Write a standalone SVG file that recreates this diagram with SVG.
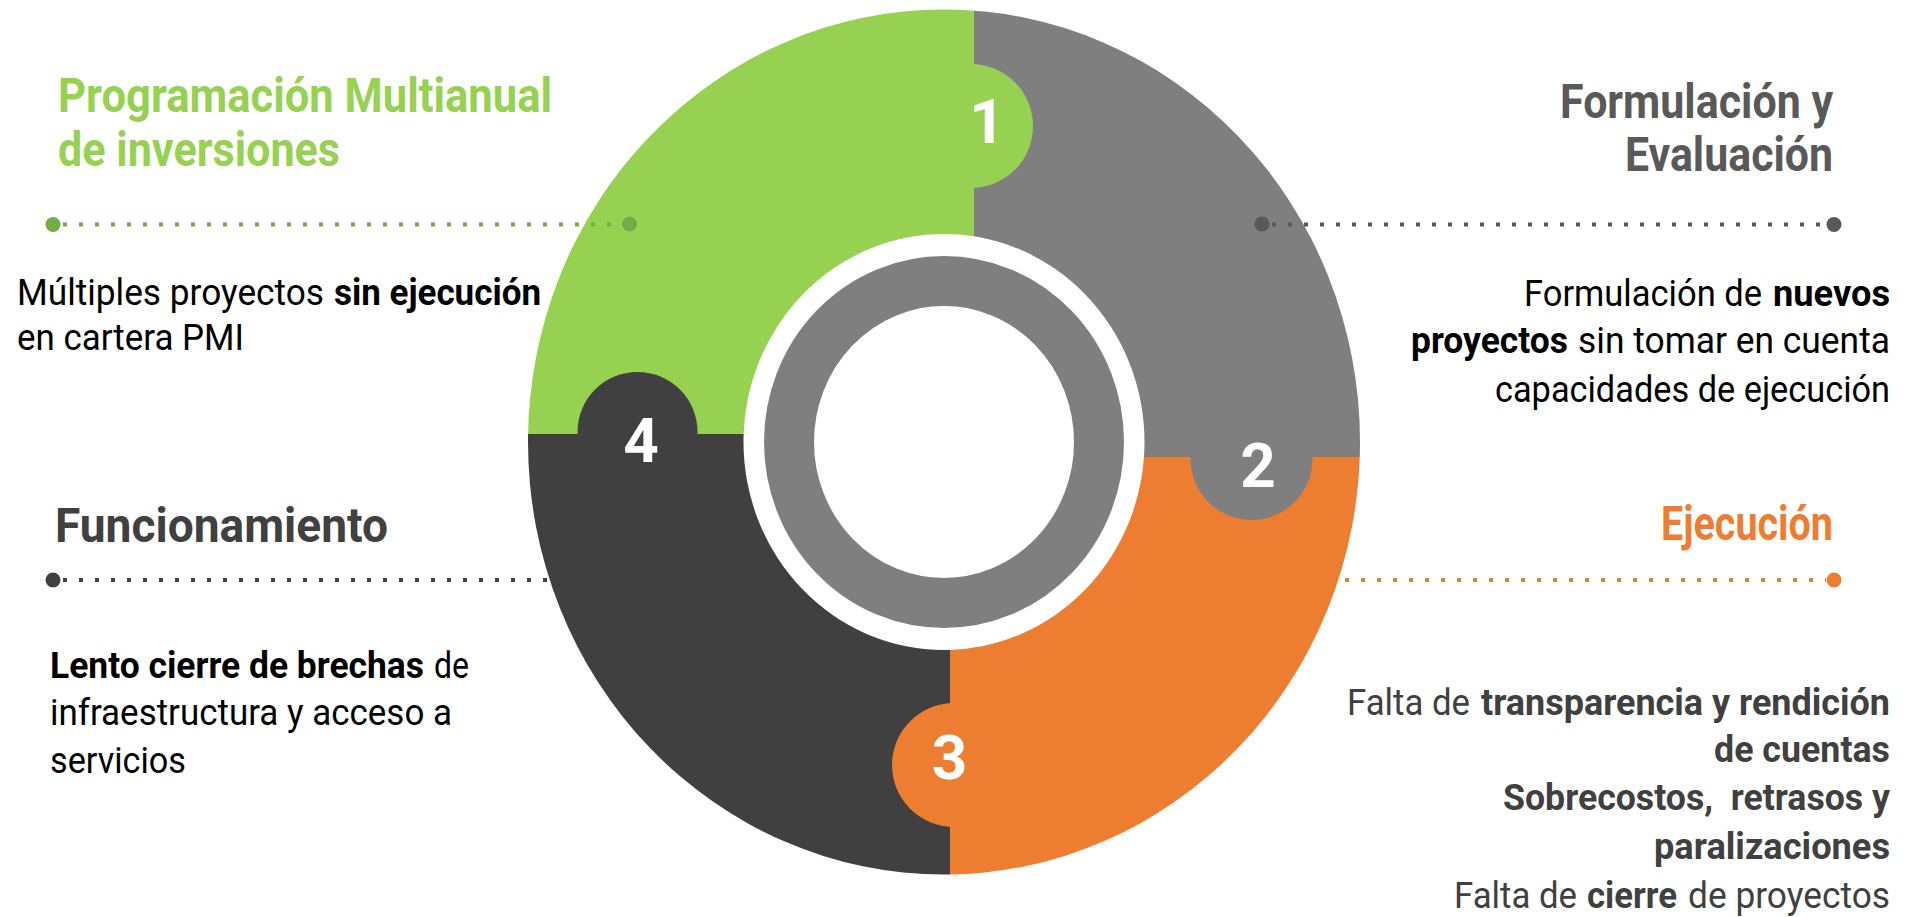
<svg xmlns="http://www.w3.org/2000/svg" width="1911" height="917" viewBox="0 0 1911 917">
<style>
text{font-family:Roboto,"Liberation Sans",Arial,sans-serif}
.t{font-size:48px;font-weight:700}
.b{font-size:36px;font-weight:400}
.bold{font-weight:700}
.num{font-size:62px;font-weight:700;fill:#FFFFFF;text-anchor:middle}
.end{text-anchor:end}
.k{fill:#000000}
.g{fill:#404040}
.dots{stroke-width:4;stroke-dasharray:4 12;fill:none}
</style>
<defs>
<path id="ann" fill-rule="evenodd" d="M528,442a416,432.5 0 1,0 832,0a416,432.5 0 1,0 -832,0ZM743.5,442a200.5,208 0 1,0 401,0a200.5,208 0 1,0 -401,0Z"/>
<clipPath id="c1"><rect x="527" y="9" width="447" height="425"/></clipPath>
<clipPath id="c2"><rect x="974" y="9" width="387" height="448"/></clipPath>
<clipPath id="c3"><rect x="950" y="457" width="411" height="419"/></clipPath>
<clipPath id="c4"><rect x="527" y="434" width="423" height="442"/></clipPath>
</defs>
<rect width="1911" height="917" fill="#FFFFFF"/>

<g id="q1-shape"><use href="#ann" fill="#97D152" clip-path="url(#c1)"/></g>
<g id="q2-shape"><use href="#ann" fill="#7F7F7F" clip-path="url(#c2)"/></g>
<g id="q3-shape"><use href="#ann" fill="#ED7D31" clip-path="url(#c3)"/></g>
<g id="q4-shape"><use href="#ann" fill="#404040" clip-path="url(#c4)"/></g>

<g id="node1"><circle cx="971" cy="126" r="62" fill="#97D152"/><text class="num" x="987" y="143">1</text></g>
<g id="node2"><circle cx="1251.5" cy="459" r="61" fill="#7F7F7F"/><text class="num" x="1258" y="487">2</text></g>
<g id="node3"><circle cx="954" cy="765" r="62" fill="#ED7D31"/><text class="num" x="949.5" y="779">3</text></g>
<g id="node4"><circle cx="637.5" cy="432" r="60" fill="#404040"/><text class="num" x="641" y="462">4</text></g>

<g id="center-ring"><ellipse cx="944" cy="442" rx="155" ry="161" fill="none" stroke="#7F7F7F" stroke-width="50"/></g>

<g id="connectors">
<line class="dots" x1="63" y1="224.5" x2="622" y2="224.5" stroke="#70AD47"/>
<circle cx="53" cy="224.5" r="7.5" fill="#70AD47"/><circle cx="629.5" cy="224" r="7.5" fill="#70AD47"/>
<line class="dots" x1="1272" y1="224.5" x2="1826" y2="224.5" stroke="#595959"/>
<circle cx="1262" cy="224" r="7.5" fill="#595959"/><circle cx="1834" cy="224.5" r="7.5" fill="#595959"/>
<line class="dots" x1="63" y1="580" x2="548" y2="580" stroke="#404040"/>
<circle cx="53" cy="580" r="7.5" fill="#404040"/>
<line class="dots" x1="1345" y1="580" x2="1826" y2="580" stroke="#ED7D31"/>
<circle cx="1834" cy="580" r="7.5" fill="#ED7D31"/>
</g>

<g id="label1">
<text class="t" x="58" y="112" fill="#97D152" textLength="494" lengthAdjust="spacingAndGlyphs">Programación Multianual</text>
<text class="t" x="58" y="166" fill="#97D152" textLength="282" lengthAdjust="spacingAndGlyphs">de inversiones</text>
<text class="b k" x="17" y="305" textLength="307" lengthAdjust="spacingAndGlyphs">Múltiples proyectos</text>
<text class="b k bold" x="334" y="305" textLength="207" lengthAdjust="spacingAndGlyphs">sin ejecución</text>
<text class="b k" x="17" y="350" textLength="227" lengthAdjust="spacingAndGlyphs">en cartera PMI</text>
</g>

<g id="label2">
<text class="t end" x="1833" y="118" fill="#595959" textLength="273" lengthAdjust="spacingAndGlyphs">Formulación y</text>
<text class="t end" x="1833" y="171" fill="#595959" textLength="208" lengthAdjust="spacingAndGlyphs">Evaluación</text>
<text class="b k" x="1524" y="306" textLength="238" lengthAdjust="spacingAndGlyphs">Formulación de</text>
<text class="b k bold" x="1773" y="306" textLength="117" lengthAdjust="spacingAndGlyphs">nuevos</text>
<text class="b k bold" x="1411" y="353" textLength="157" lengthAdjust="spacingAndGlyphs">proyectos</text>
<text class="b k" x="1578" y="353" textLength="312" lengthAdjust="spacingAndGlyphs">sin tomar en cuenta</text>
<text class="b k" x="1495" y="402" textLength="395" lengthAdjust="spacingAndGlyphs">capacidades de ejecución</text>
</g>

<g id="label3">
<text class="t end" x="1833" y="540" fill="#ED7D31" textLength="172" lengthAdjust="spacingAndGlyphs">Ejecución</text>
<text class="b g" x="1347" y="715" textLength="123" lengthAdjust="spacingAndGlyphs">Falta de</text>
<text class="b g bold" x="1481" y="715" textLength="409" lengthAdjust="spacingAndGlyphs">transparencia y rendición</text>
<text class="b g bold" x="1714" y="762" textLength="176" lengthAdjust="spacingAndGlyphs">de cuentas</text>
<text class="b g bold" x="1503" y="810" textLength="387" lengthAdjust="spacingAndGlyphs" xml:space="preserve">Sobrecostos,  retrasos y</text>
<text class="b g bold" x="1654" y="859" textLength="236" lengthAdjust="spacingAndGlyphs">paralizaciones</text>
<text class="b g" x="1454" y="908" textLength="123" lengthAdjust="spacingAndGlyphs">Falta de</text>
<text class="b g bold" x="1587" y="908" textLength="90" lengthAdjust="spacingAndGlyphs">cierre</text>
<text class="b g" x="1688" y="908" textLength="202" lengthAdjust="spacingAndGlyphs">de proyectos</text>
</g>

<g id="label4">
<text class="t" x="55" y="542" fill="#404040" textLength="333" lengthAdjust="spacingAndGlyphs">Funcionamiento</text>
<text class="b k bold" x="50" y="678" textLength="374" lengthAdjust="spacingAndGlyphs">Lento cierre de brechas</text>
<text class="b k" x="434" y="678" textLength="35" lengthAdjust="spacingAndGlyphs">de</text>
<text class="b k" x="50" y="725" textLength="402" lengthAdjust="spacingAndGlyphs">infraestructura y acceso a</text>
<text class="b k" x="50" y="773" textLength="136" lengthAdjust="spacingAndGlyphs">servicios</text>
</g>
</svg>
